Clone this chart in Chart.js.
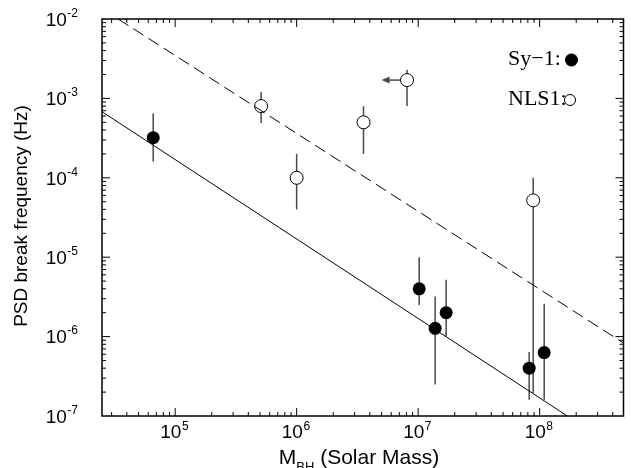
<!DOCTYPE html>
<html>
<head>
<meta charset="utf-8">
<script src="https://cdn.jsdelivr.net/npm/chart.js@4"></script>
<style>
  html, body { margin: 0; padding: 0; background: #fff; }
  canvas { display: block; }
</style>
</head>
<body>
<canvas id="grafica" width="631" height="468"></canvas>
<script>
// ========== DATOS ==========
// Sy-1 (puntos rellenos)
const syMass   = [6.6e4, 1.02e7, 1.38e7, 1.7e7, 8.2e7, 1.09e8];
const syFreq   = [3.2e-4, 4.0e-6, 1.27e-6, 2.0e-6, 4.0e-7, 6.3e-7];
const syErrHi  = [6.5e-4, 1.0e-5, 3.2e-6, 5.2e-6, 6.4e-7, 2.6e-6];
const syErrLo  = [1.6e-4, 2.5e-6, 2.5e-7, 1.0e-6, 1.6e-7, 1.6e-7];

// NLS1 (puntos abiertos)
const nlsMass  = [5.1e5, 1.0e6, 3.55e6, 8.1e6, 8.85e7];
const nlsFreq  = [8.0e-4, 1.0e-4, 5.0e-4, 1.7e-3, 5.2e-5];
const nlsErrHi = [1.2e-3, 2.0e-4, 8.0e-4, 2.3e-3, 1.0e-4];
const nlsErrLo = [4.9e-4, 4.0e-5, 2.0e-4, 8.0e-4, 1.95e-7];
// limite superior en masa (flecha hacia la izquierda)
const nlsLimitIdx = 3;
const nlsLimitTo = 5.0e6;

// rectas de ajuste
const fitSolidX  = [2.5e4, 1.69e8];
const fitSolidY  = [6.8e-4, 1.0e-7];
const fitDashedX = [3.4e4, 4.9e8];
const fitDashedY = [1.0e-2, 8.3e-7];

// ejes
const xMin = 2.5e4, xMax = 4.9e8;
const yMin = 1e-7, yMax = 1e-2;
const xTickExp = [5, 6, 7, 8];
const yTickExp = [-2, -3, -4, -5, -6, -7];

const pts = (xs, ys) => xs.map((x, i) => ({ x: x, y: ys[i] }));

// ========== PLUGIN: marco, ticks, textos, barras de error ==========
const SANS = 'Arial, "Liberation Sans", Helvetica, sans-serif';
const SERIF = '"Liberation Serif", "Times New Roman", serif';

const decoracion = {
  id: 'decoracion',
  beforeDatasetsDraw(chart) {
    const ctx = chart.ctx;
    const sx = chart.scales.x, sy = chart.scales.y;
    ctx.save();
    ctx.strokeStyle = '#4a4a4a';
    ctx.lineWidth = 1.5;
    const barras = (xs, hi, lo) => {
      xs.forEach((m, i) => {
        const px = sx.getPixelForValue(m);
        ctx.beginPath();
        ctx.moveTo(px, sy.getPixelForValue(hi[i]));
        ctx.lineTo(px, sy.getPixelForValue(lo[i]));
        ctx.stroke();
      });
    };
    barras(syMass, syErrHi, syErrLo);
    barras(nlsMass, nlsErrHi, nlsErrLo);

    // flecha de limite
    const y0 = sy.getPixelForValue(nlsFreq[nlsLimitIdx]);
    const x0 = sx.getPixelForValue(nlsMass[nlsLimitIdx]);
    const x1 = sx.getPixelForValue(nlsLimitTo);
    ctx.beginPath();
    ctx.moveTo(x0, y0);
    ctx.lineTo(x1 + 2, y0);
    ctx.stroke();
    ctx.fillStyle = '#4a4a4a';
    ctx.beginPath();
    ctx.moveTo(x1, y0);
    ctx.lineTo(x1 + 8, y0 - 3.5);
    ctx.lineTo(x1 + 8, y0 + 3.5);
    ctx.closePath();
    ctx.fill();
    ctx.restore();
  },
  afterDraw(chart) {
    const ctx = chart.ctx;
    const a = chart.chartArea;
    const sx = chart.scales.x, sy = chart.scales.y;
    ctx.save();

    // marco
    ctx.strokeStyle = '#000';
    ctx.lineWidth = 1.5;
    ctx.strokeRect(a.left, a.top, a.right - a.left, a.bottom - a.top);

    // ticks hacia dentro
    ctx.lineWidth = 1;
    const tickX = (v, len) => {
      const p = sx.getPixelForValue(v);
      if (p < a.left + 1 || p > a.right - 1) return;
      ctx.beginPath();
      ctx.moveTo(p, a.bottom); ctx.lineTo(p, a.bottom - len);
      ctx.moveTo(p, a.top); ctx.lineTo(p, a.top + len);
      ctx.stroke();
    };
    const tickY = (v, len) => {
      const p = sy.getPixelForValue(v);
      if (p < a.top + 1 || p > a.bottom - 1) return;
      ctx.beginPath();
      ctx.moveTo(a.left, p); ctx.lineTo(a.left + len, p);
      ctx.moveTo(a.right, p); ctx.lineTo(a.right - len, p);
      ctx.stroke();
    };
    for (let e = 4; e <= 8; e++) {
      for (let k = 1; k <= 9; k++) tickX(k * Math.pow(10, e), k === 1 ? 8 : 4);
    }
    for (let e = -7; e <= -3; e++) {
      for (let k = 1; k <= 9; k++) tickY(k * Math.pow(10, e), k === 1 ? 8 : 4);
    }

    // etiquetas 10^n
    ctx.fillStyle = '#000';
    ctx.textBaseline = 'alphabetic';
    const fBase = '19px ' + SANS, fExp = '12px ' + SANS;
    xTickExp.forEach(e => {
      const p = sx.getPixelForValue(Math.pow(10, e));
      ctx.font = fBase; const w1 = ctx.measureText('10').width;
      ctx.font = fExp;  const w2 = ctx.measureText(String(e)).width;
      const x0 = p - (w1 + w2) / 2 - 1;
      ctx.font = fBase; ctx.textAlign = 'left'; ctx.fillText('10', x0, 438);
      ctx.font = fExp; ctx.fillText(String(e), x0 + w1 + 0.5, 430);
    });
    yTickExp.forEach(e => {
      const p = sy.getPixelForValue(Math.pow(10, e));
      const txt = '-' + Math.abs(e);
      ctx.font = fExp;  const w2 = ctx.measureText(txt).width;
      ctx.font = fBase; const w1 = ctx.measureText('10').width;
      const xr = 78;
      ctx.textAlign = 'left';
      ctx.fillText('10', xr - w2 - w1 - 0.5, p + 6.8);
      ctx.font = fExp; ctx.fillText(txt, xr - w2, p - 2.3);
    });

    // titulo eje x
    ctx.font = '21px ' + SANS;
    const tM = 'M', tRest = ' (Solar Mass)';
    const wM = ctx.measureText(tM).width, wR = ctx.measureText(tRest).width;
    ctx.font = '13px ' + SANS;
    const wS = ctx.measureText('BH').width;
    let xt = 359 - (wM + wS + wR) / 2;
    ctx.font = '21px ' + SANS; ctx.fillText(tM, xt, 464);
    ctx.font = '13px ' + SANS; ctx.fillText('BH', xt + wM, 471);
    ctx.font = '21px ' + SANS; ctx.fillText(tRest, xt + wM + wS, 464);

    // titulo eje y
    ctx.save();
    ctx.translate(27, 216);
    ctx.rotate(-Math.PI / 2);
    ctx.font = '19px ' + SANS;
    ctx.textAlign = 'center';
    ctx.fillText('PSD break frequency (Hz)', 0, 0);
    ctx.restore();

    // leyenda
    ctx.font = '22px ' + SERIF;
    ctx.textAlign = 'left';
    ctx.fillText('Sy\u22121:', 508, 65);
    ctx.fillText('NLS1:', 508, 105);
    ctx.beginPath();
    ctx.arc(571.5, 60, 6.5, 0, Math.PI * 2);
    ctx.fill();
    ctx.beginPath();
    ctx.fillStyle = '#fff';
    ctx.arc(570, 100, 5.5, 0, Math.PI * 2);
    ctx.fill();
    ctx.lineWidth = 1;
    ctx.strokeStyle = '#000';
    ctx.stroke();

    ctx.restore();
  }
};

// ========== CREAR GRÁFICA ==========
const grafica = new Chart(document.getElementById('grafica'), {
  type: 'scatter',
  data: {
    datasets: [
      {
        type: 'line',
        label: 'fit Sy-1',
        data: pts(fitSolidX, fitSolidY),
        borderColor: '#000',
        borderWidth: 1,
        pointRadius: 0,
        fill: false
      },
      {
        type: 'line',
        label: 'fit NLS1',
        data: pts(fitDashedX, fitDashedY),
        borderColor: '#000',
        borderWidth: 1,
        borderDash: [12, 6],
        pointRadius: 0,
        fill: false
      },
      {
        label: 'Sy-1',
        data: pts(syMass, syFreq),
        pointStyle: 'circle',
        pointRadius: 6.5,
        backgroundColor: '#000',
        borderColor: '#000',
        borderWidth: 0
      },
      {
        label: 'NLS1',
        data: pts(nlsMass, nlsFreq),
        pointStyle: 'circle',
        pointRadius: 6.5,
        backgroundColor: '#fff',
        borderColor: '#000',
        borderWidth: 1
      }
    ]
  },
  options: {
    responsive: false,
    animation: false,
    devicePixelRatio: 1,
    layout: { padding: { left: 102, right: 2, top: 19, bottom: 52 } },
    plugins: {
      legend: { display: false },
      tooltip: { enabled: false }
    },
    scales: {
      x: { type: 'logarithmic', min: xMin, max: xMax, display: false },
      y: { type: 'logarithmic', min: yMin, max: yMax, display: false }
    }
  },
  plugins: [decoracion]
});
</script>
</body>
</html>
